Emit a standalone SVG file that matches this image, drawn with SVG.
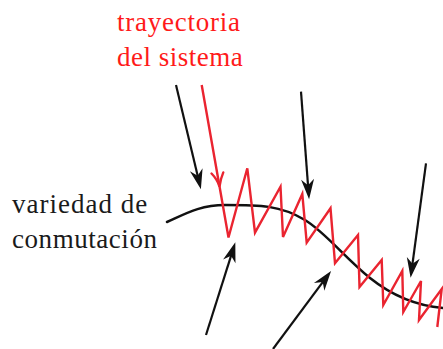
<svg xmlns="http://www.w3.org/2000/svg" width="443" height="349" viewBox="0 0 443 349">
  <defs>
    <marker id="head" markerUnits="userSpaceOnUse" viewBox="-12 -8 24 16" markerWidth="24" markerHeight="16" refX="0" refY="0" orient="auto">
      <path d="M9,0 L-11,-6.5 L-5,0 L-11,6.5 Z" fill="#111"/>
    </marker>
  </defs>

  <g id="label-trayectoria" font-family="Liberation Serif, serif" font-size="27" fill="#ff1a1a">
    <text x="117" y="31" letter-spacing="0.75">trayectoria</text>
    <text x="117" y="66" letter-spacing="0.5">del sistema</text>
  </g>

  <g id="label-variedad" font-family="Liberation Serif, serif" font-size="27" fill="#1a1a1a">
    <text x="12" y="213" letter-spacing="1">variedad de</text>
    <text x="12" y="248" letter-spacing="0.55">conmutación</text>
  </g>

  <g id="variedad-conmutacion" fill="none" stroke="#111" stroke-width="2.5" stroke-linecap="round">
    <path d="M167,222 C185,214 200,205 225,205 C260,205 280,205 305,220 C325,232 345,258 370,278 C395,298 420,306 443,308"/>
  </g>

  <g id="trayectoria-sistema" fill="none" stroke="#ea2430" stroke-width="2.4">
    <path d="M201.7,85 L228.5,237.5 L247.3,168.3 L255,232.7 L280.5,186.7 L283,237 L302.3,194 L306.7,242.7 L330.5,208.3 L335,263.3 L358,235 L359.5,287 L381.7,260 L383.3,305 L402.3,271 L403.3,312 L421,281 L419,320 L441.7,289 L437.3,327"/>
    <path d="M211.5,173.5 Q217,179 219.5,186.5 Q220.5,179 223.3,172.4" stroke-linecap="round"/>
  </g>

  <g id="connectors" fill="none" stroke="#111" stroke-width="2.2" marker-end="url(#head)">
    <line x1="176" y1="85" x2="198.8" y2="180.5"/>
    <line x1="301" y1="91.7" x2="308.4" y2="190.3"/>
    <line x1="426" y1="163.3" x2="411.8" y2="268.8"/>
    <line x1="206" y1="335" x2="232.6" y2="250.9"/>
    <line x1="273" y1="349" x2="325.7" y2="278.1"/>
  </g>
</svg>
